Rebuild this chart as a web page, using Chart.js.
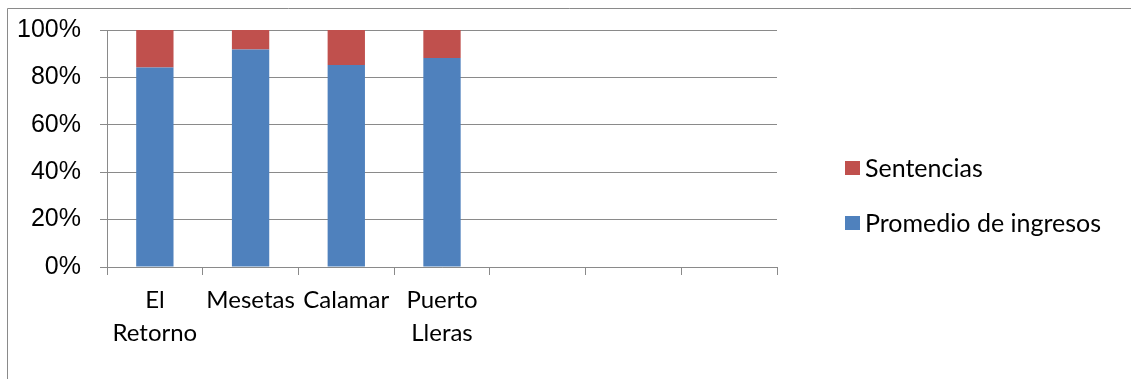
<!DOCTYPE html>
<html>
<head>
<meta charset="utf-8">
<script src="https://cdn.jsdelivr.net/npm/chart.js@4/dist/chart.umd.min.js"></script>
<style>
  html, body { margin: 0; padding: 0; background: #ffffff; overflow: hidden; }
  canvas { display: block; }
</style>
</head>
<body>
<canvas id="c" width="1131" height="379"></canvas>
<script>
// Municipalities (three trailing empty slots are kept on the axis)
const municipios = [["El", "Retorno"], "Mesetas", "Calamar", ["Puerto", "Lleras"], "", "", ""];
// Share of each component, in percent
const promedioIngresos = [84.2, 91.8, 85.2, 88.2, null, null, null];
const sentencias = [15.8, 8.2, 14.8, 11.8, null, null, null];
// Value axis ticks
const yTicks = [0, 20, 40, 60, 80, 100];

const AXIS_GREY = '#8a8a8a';
const BLUE = '#4f81bd';
const RED = '#c0504d';
const TEXT_FONT = 'Lato, "Open Sans", sans-serif';

// Outer frame around the whole chart
const framePlugin = {
  id: 'frame',
  beforeDraw(chart) {
    const ctx = chart.ctx;
    ctx.save();
    ctx.strokeStyle = AXIS_GREY;
    ctx.lineWidth = 1;
    ctx.beginPath();
    ctx.moveTo(7.5, chart.height + 5);
    ctx.lineTo(7.5, 8.5);
    ctx.lineTo(chart.width + 5, 8.5);
    ctx.stroke();
    ctx.restore();
  }
};

// Legend on the right, last series listed first
const sideLegend = {
  id: 'sideLegend',
  afterDraw(chart) {
    const ctx = chart.ctx;
    const sets = chart.data.datasets.slice().reverse();
    const x0 = 845, y0 = 168, step = 55, box = 14;
    ctx.save();
    ctx.font = '25px ' + TEXT_FONT;
    ctx.textBaseline = 'middle';
    ctx.textAlign = 'left';
    sets.forEach((ds, i) => {
      const cy = y0 + i * step;
      ctx.fillStyle = ds.backgroundColor;
      ctx.fillRect(x0, cy - box / 2, box + 1, box);
      ctx.fillStyle = '#000000';
      ctx.fillText(ds.label, x0 + 20, cy + 1);
    });
    ctx.restore();
  }
};

new Chart(document.getElementById('c'), {
  type: 'bar',
  data: {
    labels: municipios,
    datasets: [
      { label: 'Promedio de ingresos', data: promedioIngresos, backgroundColor: BLUE },
      { label: 'Sentencias', data: sentencias, backgroundColor: RED }
    ]
  },
  options: {
    responsive: false,
    animation: false,
    layout: { padding: { left: 0, top: 30, right: 354, bottom: 0 } },
    datasets: { bar: { categoryPercentage: 0.39, barPercentage: 1.0, borderWidth: 0 } },
    plugins: { legend: { display: false }, tooltip: { enabled: false } },
    scales: {
      x: {
        stacked: true,
        offset: true,
        afterFit(s) { s.height = 112; s.paddingLeft = 0; s.paddingRight = 0; },
        grid: { offset: true, drawOnChartArea: false, drawTicks: true, tickLength: 8, color: AXIS_GREY, lineWidth: 1 },
        border: { display: true, color: AXIS_GREY, width: 1 },
        ticks: {
          color: '#000000',
          maxRotation: 0,
          autoSkip: false,
          padding: 9,
          font: { family: TEXT_FONT, size: 24, lineHeight: 1.36 }
        }
      },
      y: {
        stacked: true,
        min: 0,
        max: 100,
        afterFit(s) { s.width = 107; s.paddingTop = 0; s.paddingBottom = 0; },
        afterBuildTicks(s) { s.ticks = yTicks.map(v => ({ value: v })); },
        grid: { drawTicks: true, tickLength: 7, color: AXIS_GREY, lineWidth: 1 },
        border: { display: true, color: AXIS_GREY, width: 1 },
        ticks: {
          color: '#000000',
          padding: 19,
          callback: v => v + '%',
          font: { family: '"Liberation Sans", Arial, sans-serif', size: 25 }
        }
      }
    }
  },
  plugins: [framePlugin, sideLegend]
});
</script>
</body>
</html>
